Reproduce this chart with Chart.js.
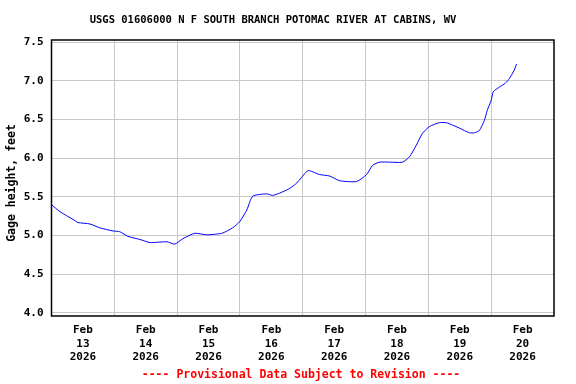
<!DOCTYPE html>
<html>
<head>
<meta charset="utf-8">
<script src="https://cdn.jsdelivr.net/npm/chart.js@4/dist/chart.umd.min.js"></script>
<style>
  body { margin: 0; background: #fff; }
</style>
</head>
<body>
<canvas id="myChart" width="576" height="384"></canvas>
<script>
// gage height readings, hours since Feb 13 2026 00:00
const hours = [0, 3.2, 8.2, 10.1, 14.7, 18.5, 23.5, 26.1, 29.2, 33.8, 37.6, 44.1, 47.1, 50.2, 54.8, 59.3,
    65.1, 69.2, 71.9, 74.6, 76.9, 82.2, 84.5, 87.2, 91.0, 93.7, 97.5, 98.6, 102.4, 106.3, 110.1, 116.6,
    120.4, 122.7, 125.4, 129.1, 134.1, 136.8, 139.4, 141.7, 144.4, 148.2, 150.9, 153.2, 155.9, 159.7,
    161.6, 163.5, 165.4, 166.5, 168.0, 168.8, 171.1, 173.4, 174.9, 176.8, 177.7];
const gage = [5.40, 5.31, 5.21, 5.17, 5.15, 5.10, 5.06, 5.05, 4.99, 4.95, 4.91, 4.92, 4.89, 4.96, 5.03, 5.01,
    5.03, 5.10, 5.18, 5.33, 5.51, 5.54, 5.52, 5.55, 5.61, 5.68, 5.83, 5.84, 5.79, 5.77, 5.71, 5.70,
    5.79, 5.91, 5.95, 5.95, 5.95, 6.02, 6.17, 6.32, 6.41, 6.46, 6.46, 6.43, 6.39, 6.33,
    6.33, 6.36, 6.49, 6.62, 6.75, 6.86, 6.92, 6.97, 7.03, 7.14, 7.22];

const days = ['13', '14', '15', '16', '17', '18', '19', '20'];
const month = 'Feb';
const year = '2026';
const yTicks = [4.0, 4.5, 5.0, 5.5, 6.0, 6.5, 7.0, 7.5];

const titleText = 'USGS 01606000 N F SOUTH BRANCH POTOMAC RIVER AT CABINS, WV';
const yTitle = 'Gage height, feet';
const noteText = '---- Provisional Data Subject to Revision ----';

const font = 'DejaVu Sans Mono';

// title, axis label, note and the box around the plot
const extras = {
    id: 'extras',
    afterDraw(chart) {
        const c = chart.ctx;
        const a = chart.chartArea;
        c.save();
        c.strokeStyle = '#000';
        c.lineWidth = 1.5;
        c.strokeRect(a.left, a.top, a.right - a.left, a.bottom - a.top);

        c.fillStyle = '#000';
        c.textAlign = 'center';
        c.textBaseline = 'middle';
        c.font = 'bold 10.5px "' + font + '"';
        c.fillText(titleText, 273, 20);

        c.font = 'bold 11.5px "' + font + '"';
        c.save();
        c.translate(12, 183);
        c.rotate(-Math.PI / 2);
        c.fillText(yTitle, 0, 0);
        c.restore();

        c.fillStyle = '#ff0000';
        c.fillText(noteText, 301, 375);
        c.restore();
    }
};

const myChart = new Chart(document.getElementById('myChart'), {
    type: 'line',
    data: {
        datasets: [{
            data: hours.map((h, i) => ({ x: h, y: gage[i] })),
            borderColor: '#0000ff',
            borderWidth: 1,
            pointRadius: 0,
            tension: 0.2,
            fill: false
        }]
    },
    options: {
        responsive: false,
        animation: false,
        layout: { padding: { top: 40, right: 22, left: 0, bottom: 0 } },
        plugins: {
            legend: { display: false },
            tooltip: { enabled: false }
        },
        scales: {
            x: {
                type: 'linear',
                min: 0,
                max: 192,
                afterBuildTicks: (s) => {
                    const t = [];
                    for (let h = 0; h <= 192; h += 12) t.push({ value: h });
                    s.ticks = t;
                },
                afterFit: (s) => { s.height = 68; },
                border: { display: false },
                grid: {
                    drawTicks: false,
                    color: (ctx) => (ctx.tick && ctx.tick.value % 24 === 0 && ctx.tick.value > 0 && ctx.tick.value < 192) ? '#c8c8c8' : 'rgba(0,0,0,0)',
                    lineWidth: 1
                },
                ticks: {
                    autoSkip: false,
                    maxRotation: 0,
                    padding: 8,
                    color: '#000',
                    font: { family: font, size: 11, weight: 'bold', lineHeight: 1.2 },
                    callback: (v) => {
                        if (v % 24 !== 12) return '';
                        return [month, days[(v - 12) / 24], year];
                    }
                }
            },
            y: {
                min: 3.96,
                max: 7.53,
                afterBuildTicks: (s) => { s.ticks = yTicks.map(v => ({ value: v })); },
                afterFit: (s) => { s.width = 51.5; },
                border: { display: false },
                grid: { drawTicks: false, color: '#c8c8c8', lineWidth: 1 },
                ticks: {
                    padding: 8,
                    color: '#000',
                    font: { family: font, size: 11, weight: 'bold' },
                    callback: (v) => Number(v).toFixed(1)
                }
            }
        }
    },
    plugins: [extras]
});
</script>
</body>
</html>
